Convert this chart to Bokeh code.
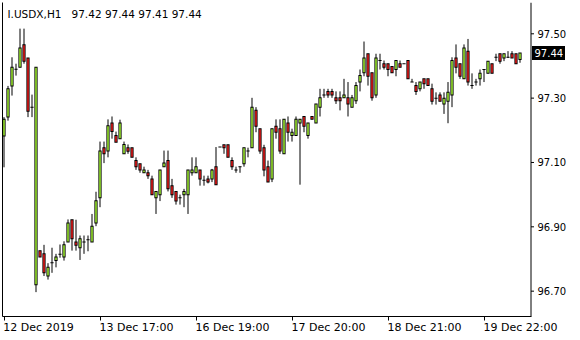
from bokeh.plotting import figure
from bokeh.models import (ColumnDataSource, Range1d, LinearAxis, FixedTicker, Label)
from bokeh.embed import file_html
from bokeh.resources import INLINE
from bokeh.core.properties import value

symbol = "I.USDX,H1"

opens = [97.182, 97.241, 97.338, 97.390, 97.396, 97.466, 97.425, 97.272, 96.720, 96.826,
         96.816, 96.747, 96.788, 96.795, 96.815, 96.806, 96.853, 96.922, 96.853, 96.835,
         96.853, 96.860, 96.853, 96.912, 96.990, 97.146, 97.136, 97.223, 97.184, 97.174,
         97.127, 97.146, 97.146, 97.106, 97.096, 97.068, 97.068, 97.049, 96.990, 97.000,
         97.087, 97.106, 97.028, 97.010, 96.990, 97.000, 97.000, 97.068, 97.068, 97.077,
         97.045, 97.049, 97.049, 97.087, 97.148, 97.155, 97.155, 97.106, 97.077, 97.087,
         97.096, 97.136, 97.146, 97.262, 97.205, 97.146, 97.087, 97.049, 97.213, 97.205,
         97.127, 97.223, 97.184, 97.184, 97.223, 97.243, 97.184, 97.243, 97.223, 97.272,
         97.310, 97.321, 97.321, 97.301, 97.301, 97.301, 97.301, 97.272, 97.292, 97.350,
         97.379, 97.438, 97.379, 97.310, 97.417, 97.407, 97.407, 97.398, 97.389, 97.407,
         97.407, 97.417, 97.350, 97.339, 97.329, 97.360, 97.360, 97.329, 97.300, 97.310,
         97.282, 97.290, 97.310, 97.425, 97.407, 97.360, 97.446, 97.339, 97.350, 97.360,
         97.389, 97.377, 97.407, 97.427, 97.438, 97.425, 97.427, 97.438, 97.438, 97.420]
highs = [97.241, 97.338, 97.427, 97.407, 97.516, 97.516, 97.425, 97.311, 97.396, 96.826,
         96.844, 96.787, 96.835, 96.816, 96.845, 96.855, 96.923, 96.922, 96.922, 96.873,
         96.873, 96.873, 96.940, 97.009, 97.165, 97.165, 97.234, 97.243, 97.196, 97.233,
         97.165, 97.156, 97.146, 97.116, 97.096, 97.087, 97.077, 97.059, 97.010, 97.077,
         97.137, 97.137, 97.049, 97.010, 97.000, 97.018, 97.077, 97.116, 97.116, 97.077,
         97.059, 97.059, 97.080, 97.148, 97.148, 97.155, 97.155, 97.116, 97.087, 97.087,
         97.146, 97.146, 97.301, 97.272, 97.205, 97.155, 97.106, 97.205, 97.234, 97.234,
         97.234, 97.243, 97.205, 97.243, 97.234, 97.243, 97.223, 97.243, 97.282, 97.329,
         97.329, 97.329, 97.329, 97.321, 97.321, 97.360, 97.350, 97.310, 97.350, 97.389,
         97.476, 97.438, 97.379, 97.438, 97.438, 97.417, 97.407, 97.398, 97.417, 97.417,
         97.407, 97.417, 97.360, 97.350, 97.350, 97.360, 97.360, 97.345, 97.318, 97.318,
         97.318, 97.350, 97.427, 97.467, 97.407, 97.467, 97.484, 97.377, 97.360, 97.389,
         97.389, 97.415, 97.407, 97.438, 97.438, 97.438, 97.446, 97.446, 97.438, 97.440]
lows = [97.085, 97.230, 97.308, 97.370, 97.396, 97.407, 97.241, 97.241, 96.697, 96.806,
        96.747, 96.736, 96.757, 96.774, 96.804, 96.795, 96.853, 96.826, 96.826, 96.797,
        96.816, 96.824, 96.853, 96.902, 96.961, 97.098, 97.116, 97.174, 97.163, 97.174,
        97.127, 97.127, 97.116, 97.077, 97.068, 97.068, 97.049, 97.000, 96.940, 96.980,
        97.087, 97.010, 96.990, 96.969, 96.969, 96.961, 96.940, 97.059, 97.068, 97.028,
        97.028, 97.035, 97.039, 97.031, 97.148, 97.127, 97.116, 97.077, 97.068, 97.068,
        97.087, 97.116, 97.146, 97.194, 97.127, 97.057, 97.039, 97.039, 97.174, 97.127,
        97.127, 97.165, 97.165, 97.184, 97.031, 97.194, 97.174, 97.234, 97.223, 97.243,
        97.301, 97.301, 97.301, 97.282, 97.262, 97.301, 97.243, 97.272, 97.282, 97.321,
        97.368, 97.339, 97.292, 97.301, 97.389, 97.389, 97.368, 97.379, 97.368, 97.396,
        97.407, 97.360, 97.350, 97.310, 97.321, 97.329, 97.339, 97.280, 97.280, 97.290,
        97.251, 97.222, 97.272, 97.377, 97.360, 97.360, 97.339, 97.329, 97.339, 97.339,
        97.350, 97.377, 97.377, 97.415, 97.407, 97.415, 97.425, 97.425, 97.407, 97.410]
closes = [97.234, 97.329, 97.396, 97.390, 97.456, 97.415, 97.259, 97.272, 97.396, 96.806,
          96.757, 96.774, 96.788, 96.806, 96.815, 96.844, 96.912, 96.863, 96.843, 96.863,
          96.853, 96.860, 96.902, 96.981, 97.136, 97.127, 97.214, 97.196, 97.163, 97.223,
          97.156, 97.135, 97.116, 97.087, 97.077, 97.077, 97.059, 97.000, 97.010, 97.077,
          97.098, 97.018, 97.000, 96.980, 96.990, 97.010, 97.077, 97.077, 97.087, 97.049,
          97.045, 97.039, 97.077, 97.031, 97.148, 97.146, 97.116, 97.087, 97.077, 97.087,
          97.146, 97.136, 97.272, 97.213, 97.136, 97.077, 97.039, 97.205, 97.194, 97.136,
          97.234, 97.194, 97.194, 97.234, 97.234, 97.213, 97.223, 97.234, 97.282, 97.301,
          97.310, 97.310, 97.310, 97.292, 97.292, 97.310, 97.282, 97.301, 97.339, 97.370,
          97.425, 97.368, 97.301, 97.425, 97.417, 97.396, 97.389, 97.379, 97.417, 97.396,
          97.407, 97.360, 97.350, 97.321, 97.350, 97.345, 97.339, 97.290, 97.300, 97.290,
          97.300, 97.318, 97.417, 97.396, 97.368, 97.456, 97.350, 97.339, 97.350, 97.377,
          97.389, 97.415, 97.377, 97.427, 97.415, 97.438, 97.427, 97.425, 97.407, 97.440]

time_tick_bars = [0, 24, 48, 72, 96, 120]
time_tick_labels = ["12 Dec 2019", "13 Dec 17:00", "16 Dec 19:00",
                    "17 Dec 20:00", "18 Dec 21:00", "19 Dec 22:00"]
price_ticks = [96.70, 96.90, 97.10, 97.30, 97.50]

UP = "#9AE630"
DOWN = "#E01A1A"
FONT = "DejaVu Sans"

# ---- layout geometry (pixels) ----
W, H = 580, 340
FRAME_L, FRAME_T, FRAME_B = 2, 2, 316      # frame spans x 2..580, y 2..316
BAR_PX = 4.0                                # horizontal spacing of bars
BAR0_PX = 3.5                               # canvas x of first bar centre
PX_PER_UNIT = 321.7                         # vertical pixels per 1.00 of price
REF_PRICE, REF_Y = 97.50, 33.3              # canvas y of 97.50
AXIS_X = 530.5                              # right price-axis line
BODY_OUTER_PX = 3.2
BODY_CORE_PX = 1.6

def bx(px):
    """canvas x pixel -> bar coordinate"""
    return (px - BAR0_PX) / BAR_PX

def py(pix):
    """canvas y pixel -> price coordinate"""
    return REF_PRICE - (pix - REF_Y) / PX_PER_UNIT

HALF_PX = 0.5 / PX_PER_UNIT

n = len(opens)
bars = list(range(n))
tops = [max(o, c) for o, c in zip(opens, closes)]
bots = [min(o, c) for o, c in zip(opens, closes)]
src = ColumnDataSource(dict(
    x=bars, h=highs, l=lows,
    otop=[t + HALF_PX for t in tops],
    obot=[b - HALF_PX for b in bots],
    itop=[t - HALF_PX if t - b > 2 * HALF_PX else b for t, b in zip(tops, bots)],
    ibot=[b + HALF_PX if t - b > 2 * HALF_PX else b for t, b in zip(tops, bots)],
    color=[UP if c >= o else DOWN for o, c in zip(opens, closes)],
))

p = figure(width=W, height=H, output_backend="svg", toolbar_location=None,
           x_range=Range1d(bx(FRAME_L), bx(W)), y_range=Range1d(py(FRAME_B), py(FRAME_T)),
           x_axis_location="below", y_axis_location=None,
           min_border_left=FRAME_L, min_border_right=0, min_border_top=FRAME_T,
           min_border_bottom=H - FRAME_B)
p.grid.visible = False
p.outline_line_color = None
p.background_fill_color = "white"
p.border_fill_color = "white"

# candles: wick, black body outline, coloured body core
p.segment(x0="x", y0="l", x1="x", y1="h", source=src, line_color="black", line_width=1)
p.vbar(x="x", width=BODY_OUTER_PX / BAR_PX, top="otop", bottom="obot", source=src,
       fill_color="black", line_color=None)
p.vbar(x="x", width=BODY_CORE_PX / BAR_PX, top="itop", bottom="ibot", source=src,
       fill_color="color", line_color=None)

# bottom axis: line + tick marks only
xa = p.xaxis[0]
xa.ticker = FixedTicker(ticks=time_tick_bars)
xa.major_label_overrides = {b: "" for b in time_tick_bars}
xa.major_label_text_font_size = "1px"
xa.major_label_standoff = 0
xa.major_tick_out = 4
xa.major_tick_in = 0
xa.minor_tick_out = 0
xa.minor_tick_in = 0
xa.axis_line_color = "black"
xa.major_tick_line_color = "black"
xa.bounds = (bx(FRAME_L), bx(AXIS_X))

# second bottom axis: date labels, left-aligned to their tick marks
label_w_px = [70.3 if i == 0 else 74.0 for i in range(len(time_tick_labels))]
label_pos = [b + round((w / 2 - 0.5) / BAR_PX * 8) / 8
             for b, w in zip(time_tick_bars, label_w_px)]
xb = LinearAxis(ticker=FixedTicker(ticks=label_pos),
                major_label_overrides={pos: t for pos, t in zip(label_pos, time_tick_labels)},
                major_tick_out=0, major_tick_in=0, minor_tick_out=0, minor_tick_in=0,
                axis_line_color=None, major_tick_line_color=None,
                major_label_standoff=0, major_label_text_font=FONT,
                major_label_text_font_size="11px", major_label_text_color="black")
p.add_layout(xb, "below")

# left border line
la = LinearAxis(ticker=FixedTicker(ticks=[]), major_tick_out=0, major_tick_in=0,
                minor_tick_out=0, minor_tick_in=0, major_label_standoff=0,
                axis_line_color="black")
p.add_layout(la, "left")

# right price scale
ax_x = bx(AXIS_X)
p.segment(x0=[ax_x], y0=[py(FRAME_B)], x1=[ax_x], y1=[py(FRAME_T)],
          line_color="black", line_width=1)
p.segment(x0=[ax_x] * len(price_ticks), y0=price_ticks,
          x1=[bx(AXIS_X + 3)] * len(price_ticks), y1=price_ticks,
          line_color="black", line_width=1)
p.text(x=[bx(537)] * len(price_ticks), y=price_ticks,
       text=[f"{t:.2f}" for t in price_ticks],
       text_align="left", text_baseline="middle", text_font=value(FONT),
       text_font_size="10px", text_color="black")

# current price box
last_o, last_h, last_l, last_c = opens[-1], highs[-1], lows[-1], closes[-1]
half_h = 7 / PX_PER_UNIT
p.quad(left=[bx(531.5)], right=[bx(564.5)], bottom=[last_c - half_h], top=[last_c + half_h],
       fill_color="black", line_color=None)
p.text(x=[bx(534)], y=[last_c], text=[f"{last_c:.2f}"],
       text_align="left", text_baseline="middle", text_font=value(FONT),
       text_font_size="10px", text_color="white")

# title
p.add_layout(Label(x=5, y=py(13.5), x_units="screen", y_units="data", text=symbol,
                   text_align="left", text_baseline="middle", text_font=FONT,
                   text_font_size="10.5px", text_color="black"))
p.add_layout(Label(x=69, y=py(13.5), x_units="screen", y_units="data",
                   text=f"{last_o:.2f} {last_h:.2f} {last_l:.2f} {last_c:.2f}",
                   text_align="left", text_baseline="middle", text_font=FONT,
                   text_font_size="10.5px", text_color="black"))

open("out.html", "w").write(file_html(p, INLINE))
